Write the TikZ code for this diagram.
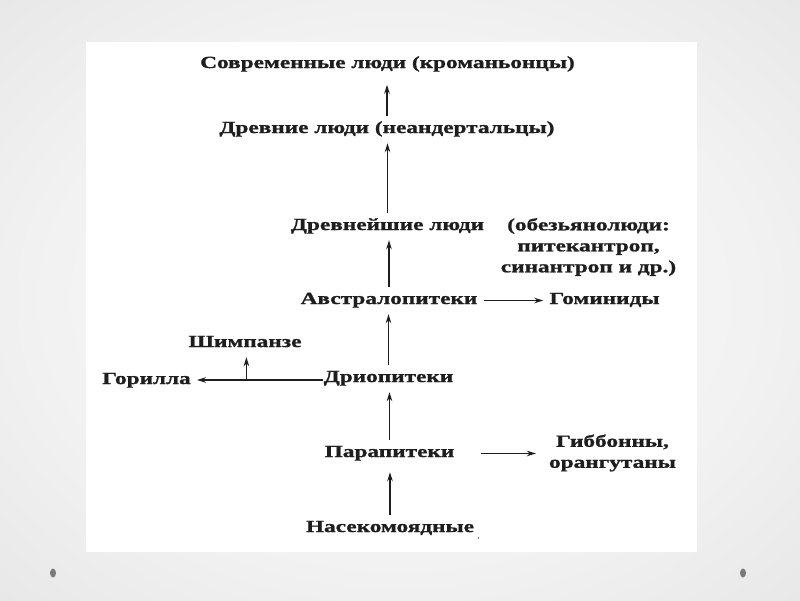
\documentclass[tikz,border=0pt]{standalone}
\usepackage{fontspec}
\usetikzlibrary{arrows.meta}
\newfontfamily\dfont{Liberation Serif}[FakeStretch=1.37,FakeBold=1.2]
\definecolor{ink}{HTML}{1E1E1E}
\definecolor{bgA}{HTML}{FAFAFA}
\definecolor{bgB}{HTML}{F2F2F2}
\definecolor{bgC}{HTML}{DDDDDD}
\definecolor{bgD}{HTML}{CFCFCF}
\definecolor{dotc}{HTML}{7A7A7A}
\pgfdeclareradialshading{slidebg}{\pgfpoint{0bp}{0bp}}{color(0bp)=(bgA); color(22bp)=(bgB); color(50bp)=(bgC); color(72bp)=(bgD)}
\begin{document}
\begin{tikzpicture}[x=1pt,y=-1pt,
  lbl/.style={font=\dfont\bfseries\fontsize{17}{21}\selectfont, text=ink, anchor=base,
    text height=11pt, text depth=4pt, inner xsep=6pt, inner ysep=6pt},
  blk/.style={font=\dfont\bfseries\fontsize{17}{21}\selectfont, text=ink, align=center,
    inner xsep=6pt, inner ysep=2pt},
  arr/.style={draw=ink, line width=1.5pt, -{Stealth[length=9pt,width=5.5pt]}},
]
\useasboundingbox (0,0) rectangle (800,600);
\shade[shading=slidebg] (0,0) rectangle (800,600);
\fill[white] (86,42) rectangle (697,552);
\fill[dotc] (53,573) ellipse [x radius=3, y radius=4.5];
\fill[dotc] (743,573) ellipse [x radius=3, y radius=4.5];
\fill[black!60] (478.5,538) circle [radius=0.8];

\node[lbl] (sov)  at (387.5,68)  {Современные люди (кроманьонцы)};
\node[lbl] (drev) at (387,133)   {Древние люди (неандертальцы)};
\node[lbl] (dvn)  at (387.5,230) {Древнейшие люди};
\node[blk] (obz)  at (588.5,247) {(обезьянолюди:\\питекантроп,\\синантроп и др.)};
\node[lbl] (avs)  at (389,304)   {Австралопитеки};
\node[lbl] (gom)  at (604.5,304) {Гоминиды};
\node[lbl] (shi)  at (245,347)   {Шимпанзе};
\node[lbl] (gor)  at (146.5,384) {Горилла};
\node[lbl] (dri)  at (388.5,382) {Дриопитеки};
\node[lbl] (par)  at (389.5,457) {Парапитеки};
\node[blk] (gib)  at (612.5,453) {Гиббонны,\\орангутаны};
\node[lbl] (ins)  at (390,532)   {Насекомоядные};

\draw[arr, shorten >=6.5pt] (drev.north) -- (drev.north |- sov.south);
\draw[arr] (dvn.north) -- (dvn.north |- drev.south);
\draw[arr] (avs.north) -- (avs.north |- dvn.south);
\draw[arr] (dri.north) -- (dri.north |- avs.south);
\draw[arr] (par.north) -- (par.north |- dri.south);
\draw[arr, shorten >=5pt] (ins.north) -- (ins.north |- par.south);

\draw[arr] (avs.east) -- (gom.west |- avs.east);
\draw[arr, shorten <=21pt, shorten >=7pt] (par.east) -- (gib.west |- par.east);
\coordinate (br) at (246.4,380);
\draw[arr, shorten <=-5pt] (dri.west |- br) -- (gor.east |- br);
\draw[arr] (br) -- (br |- shi.south);
\end{tikzpicture}
\end{document}
